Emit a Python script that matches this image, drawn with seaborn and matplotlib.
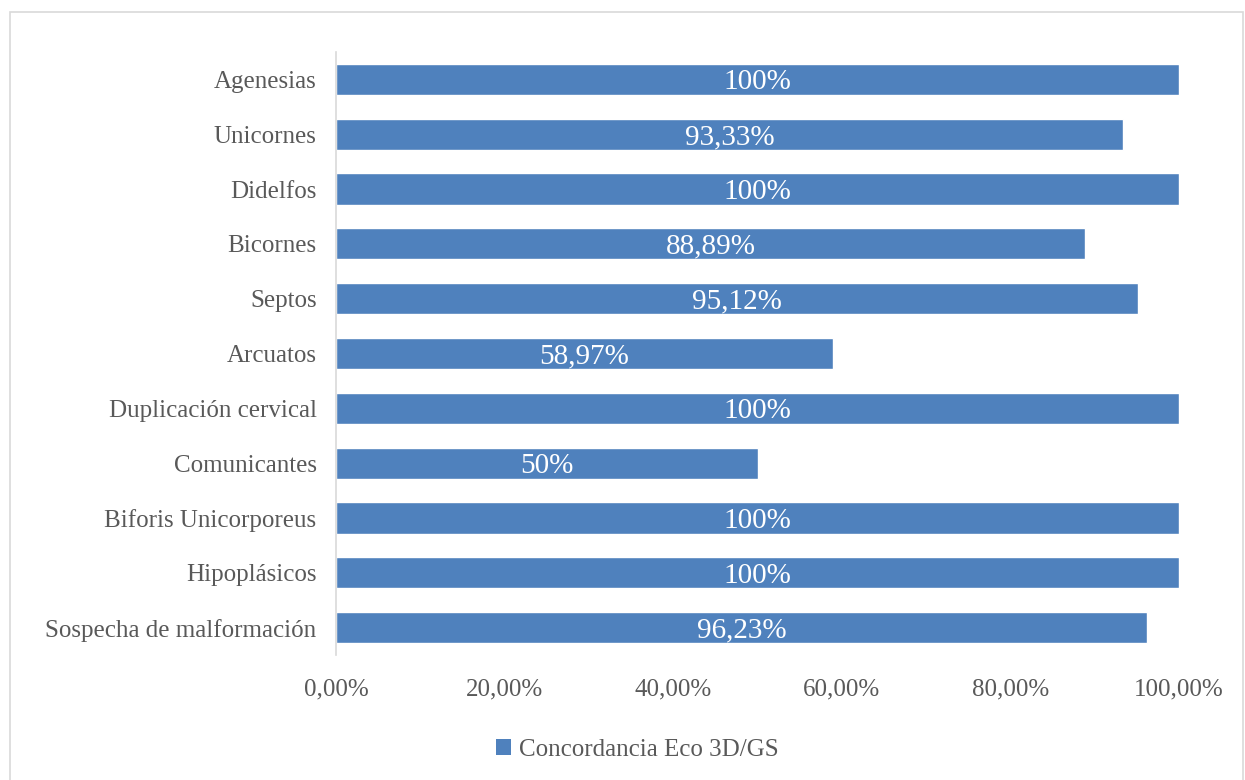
import matplotlib
matplotlib.use("Agg")
import matplotlib.pyplot as plt
from matplotlib.patches import Rectangle, Patch
from matplotlib.ticker import FuncFormatter
import pandas as pd
import seaborn as sns

categories = [
    "Agenesias", "Unicornes", "Didelfos", "Bicornes", "Septos", "Arcuatos",
    "Duplicación cervical", "Comunicantes", "Biforis Unicorporeus",
    "Hipoplásicos", "Sospecha de malformación",
]
concordancia = [100, 93.33, 100, 88.89, 95.12, 58.97, 100, 50, 100, 100, 96.23]
series_name = "Concordancia Eco 3D/GS"
tick_values = [0, 20, 40, 60, 80, 100]

BAR_COLOR = "#4F81BD"
TEXT_COLOR = "#595959"
FONT = ["Liberation Serif", "DejaVu Serif"]

sns.set_style("white")
plt.rcParams["font.family"] = FONT

df = pd.DataFrame({"categoria": categories, "valor": concordancia})

fig = plt.figure(figsize=(12.45, 7.8), dpi=100)
ax = fig.add_axes([336 / 1245, 1 - 655 / 780, (1179 - 336) / 1245, (655 - 52) / 780])

sns.barplot(data=df, y="categoria", x="valor", orient="h", color=BAR_COLOR,
            width=0.57, saturation=1, ax=ax)

ax.set_xlim(0, 100)
ax.set_ylim(len(categories) - 0.5, -0.5)
ax.set_xticks(tick_values)
ax.xaxis.set_major_formatter(FuncFormatter(lambda v, _: f"{v:.2f}".replace(".", ",") + "%"))
ax.set_xlabel("")
ax.set_ylabel("")
ax.tick_params(axis="both", length=0, labelsize=18, colors=TEXT_COLOR)
ax.tick_params(axis="x", pad=17)
ax.tick_params(axis="y", pad=14)
for lbl in ax.get_yticklabels():
    lbl.set_verticalalignment("center_baseline")

for side in ("top", "right", "bottom"):
    ax.spines[side].set_visible(False)
ax.spines["left"].set_color("#D9D9D9")
ax.spines["left"].set_linewidth(1.2)


def fmt_label(v):
    if float(v).is_integer():
        return f"{int(v)}%"
    return f"{v:.2f}".replace(".", ",") + "%"


for i, v in enumerate(concordancia):
    ax.text(v / 2, i, fmt_label(v), ha="center", va="center_baseline",
            color="white", fontsize=21)

handles = [Patch(facecolor=BAR_COLOR, edgecolor="none", label=series_name)]
fig.legend(handles=handles, loc="center", bbox_to_anchor=(0.512, 1 - 750 / 780),
           frameon=False, fontsize=18, handlelength=0.6, handleheight=0.6,
           handletextpad=0.3, labelcolor=TEXT_COLOR)

fig.patches.append(Rectangle((10 / 1245, -0.05), (1243 - 10) / 1245, 1.05 - 12 / 780,
                             transform=fig.transFigure, fill=False,
                             edgecolor="#D9D9D9", linewidth=1.2))

fig.savefig("out.png", dpi=100, facecolor="white")
